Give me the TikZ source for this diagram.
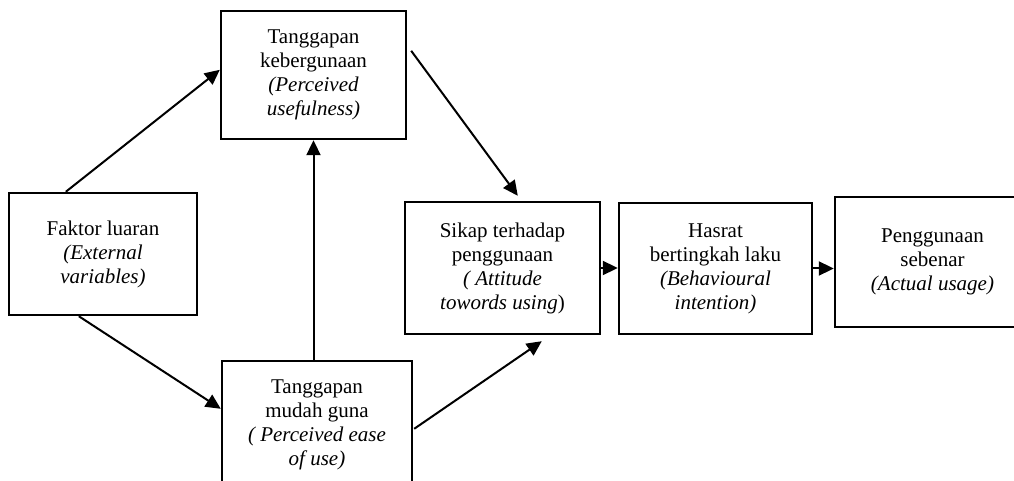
\documentclass[tikz,border=0pt]{standalone}
\usepackage{fontspec}
\setmainfont{Liberation Serif}
\usetikzlibrary{calc,arrows.meta}
\begin{document}
\begin{tikzpicture}[x=0.5pt,y=-0.5pt,
  box/.style={draw,line width=1.2pt,rectangle,align=center,inner sep=0pt,font=\fontsize{10.5}{12}\selectfont},
  arr/.style={line width=1pt,-{Triangle[length=7.5pt,width=7pt]}}]
\useasboundingbox (0,0) rectangle (1014,481);
\clip (0,0) rectangle (1014,481);
\node[box,minimum width=94pt,minimum height=61pt] (A) at (103,254)
  {Faktor luaran\\\textit{(External}\\\textit{variables)}};
\node[box,minimum width=92.5pt,minimum height=64pt] (B) at (313.5,75)
  {Tanggapan\\kebergunaan\\\textit{(Perceived}\\\textit{usefulness)}};
\node[box,minimum width=95pt,minimum height=64pt] (C) at (317,425)
  {Tanggapan\\mudah guna\\\textit{( Perceived ease}\\\textit{of use)}};
\node[box,minimum width=97.5pt,minimum height=66pt] (D) at (502.5,268)
  {Sikap terhadap\\penggunaan\\\textit{( Attitude}\\\textit{towords using})};
\node[box,minimum width=96.5pt,minimum height=65.5pt] (E) at (715.5,268.5)
  {Hasrat\\bertingkah laku\\\textit{(Behavioural}\\\textit{intention)}};
\node[box,minimum width=97.5pt,minimum height=65pt] (F) at (932.5,262)
  {Penggunaan\\sebenar\\\textit{(Actual usage)}};
\draw[arr] ($(A.north west)+(58,0)$) -- ($(B.north west)+(0,60)$);
\draw[arr] ($(A.south west)+(71,0)$) -- ($(C.north west)+(0,49)$);
\draw[arr] (B.south |- C.north) -- (B.south);
\draw[arr] ($(B.north east)+(4,41)$) -- ($(D.north west)+(114,-5)$);
\draw[arr] ($(C.north east)+(1,69)$) -- ($(D.south west)+(138,6)$);
\draw[arr] (D.east) -- (D.east -| E.west);
\draw[arr] (E.east) -- (E.east -| F.west);
\end{tikzpicture}
\end{document}
